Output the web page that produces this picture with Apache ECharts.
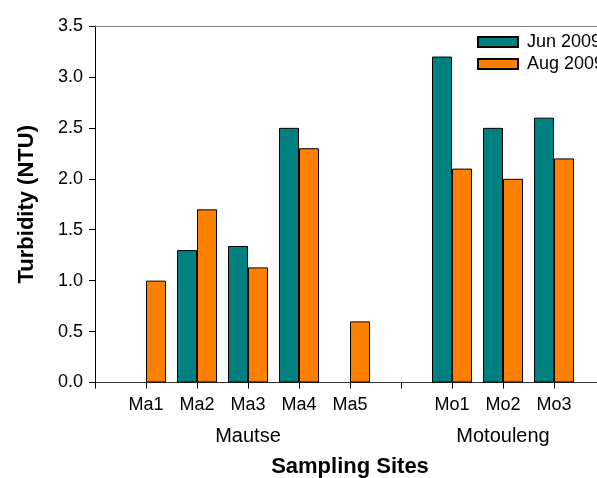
<!DOCTYPE html>
<html>
<head>
<meta charset="utf-8">
<script src="https://cdn.jsdelivr.net/npm/echarts@6/dist/echarts.min.js"></script>
<style>
html,body{margin:0;padding:0;background:#fff;overflow:hidden;}
#chart{width:597px;height:478px;}
</style>
</head>
<body>
<div id="chart"></div>
<script>
const categories = ['', 'Ma1', 'Ma2', 'Ma3', 'Ma4', 'Ma5', '', 'Mo1', 'Mo2', 'Mo3', ''];
const groupLabels = ['', '', '', 'Mautse', '', '', '', '', 'Motouleng', '', ''];
const jun2009 = [null, null, 1.30, 1.34, 2.50, null, null, 3.20, 2.50, 2.60, null];
const aug2009 = [null, 1.00, 1.70, 1.13, 2.30, 0.60, null, 2.10, 2.00, 2.20, null];
const seriesNames = ['Jun 2009', 'Aug 2009'];
const yTicks = [0, 0.5, 1.0, 1.5, 2.0, 2.5, 3.0, 3.5];

const FONT = 'Liberation Sans, Arial, sans-serif';
const chart = echarts.init(document.getElementById('chart'), null, {renderer: 'canvas'});
chart.setOption({
  animation: false,
  textStyle: {fontFamily: FONT},
  grid: {left: 95, width: 510, top: 26, height: 356.5, containLabel: false, outerBoundsMode: 'none'},
  legend: {
    orient: 'vertical', left: 477, top: 33, padding: 0, itemWidth: 40, itemHeight: 10, itemGap: 4,
    icon: 'rect',
    textStyle: {fontFamily: FONT, fontSize: 18, color: '#000', padding: [0, 0, 0, 4]},
    data: seriesNames
  },
  xAxis: [
    {
      type: 'category', data: categories, boundaryGap: false, position: 'bottom',
      axisLine: {lineStyle: {color: '#333', width: 1}},
      axisTick: {show: true, length: 6, interval: 0, lineStyle: {color: '#000'}},
      axisLabel: {interval: 0, margin: 14, fontSize: 18, color: '#000', fontFamily: FONT},
      name: 'Sampling Sites', nameLocation: 'middle', nameGap: 73,
      nameTextStyle: {fontSize: 22, fontWeight: 'bold', color: '#000', fontFamily: FONT},
      splitLine: {show: false}
    },
    {
      type: 'category', data: groupLabels, boundaryGap: false, position: 'bottom', offset: 30,
      axisLine: {show: false}, axisTick: {show: false},
      axisLabel: {interval: 0, margin: 14, fontSize: 20, color: '#000', fontFamily: FONT},
      splitLine: {show: false}
    },
    {
      type: 'category', data: categories, boundaryGap: false, position: 'top',
      axisLine: {lineStyle: {color: '#808080', width: 1}}, axisTick: {show: false},
      axisLabel: {show: false}, splitLine: {show: false}
    }
  ],
  yAxis: {
    type: 'value', min: yTicks[0], max: yTicks[yTicks.length - 1], interval: 0.5,
    axisLine: {show: true, lineStyle: {color: '#000', width: 1}},
    axisTick: {show: true, length: 6, lineStyle: {color: '#000'}},
    axisLabel: {margin: 12, fontSize: 18, color: '#000', fontFamily: FONT,
      formatter: v => v.toFixed(1)},
    splitLine: {show: false},
    name: 'Turbidity (NTU)', nameLocation: 'middle', nameGap: 57,
    nameTextStyle: {fontSize: 22, fontWeight: 'bold', color: '#000', fontFamily: FONT}
  },
  series: [
    {name: seriesNames[0], type: 'bar', data: jun2009, barWidth: 20, barGap: '0%',
     itemStyle: {color: '#008080', borderColor: '#000', borderWidth: 1}},
    {name: seriesNames[1], type: 'bar', data: aug2009, barWidth: 20, barGap: '0%',
     itemStyle: {color: '#FF8000', borderColor: '#000', borderWidth: 1}}
  ]
});
</script>
</body>
</html>
